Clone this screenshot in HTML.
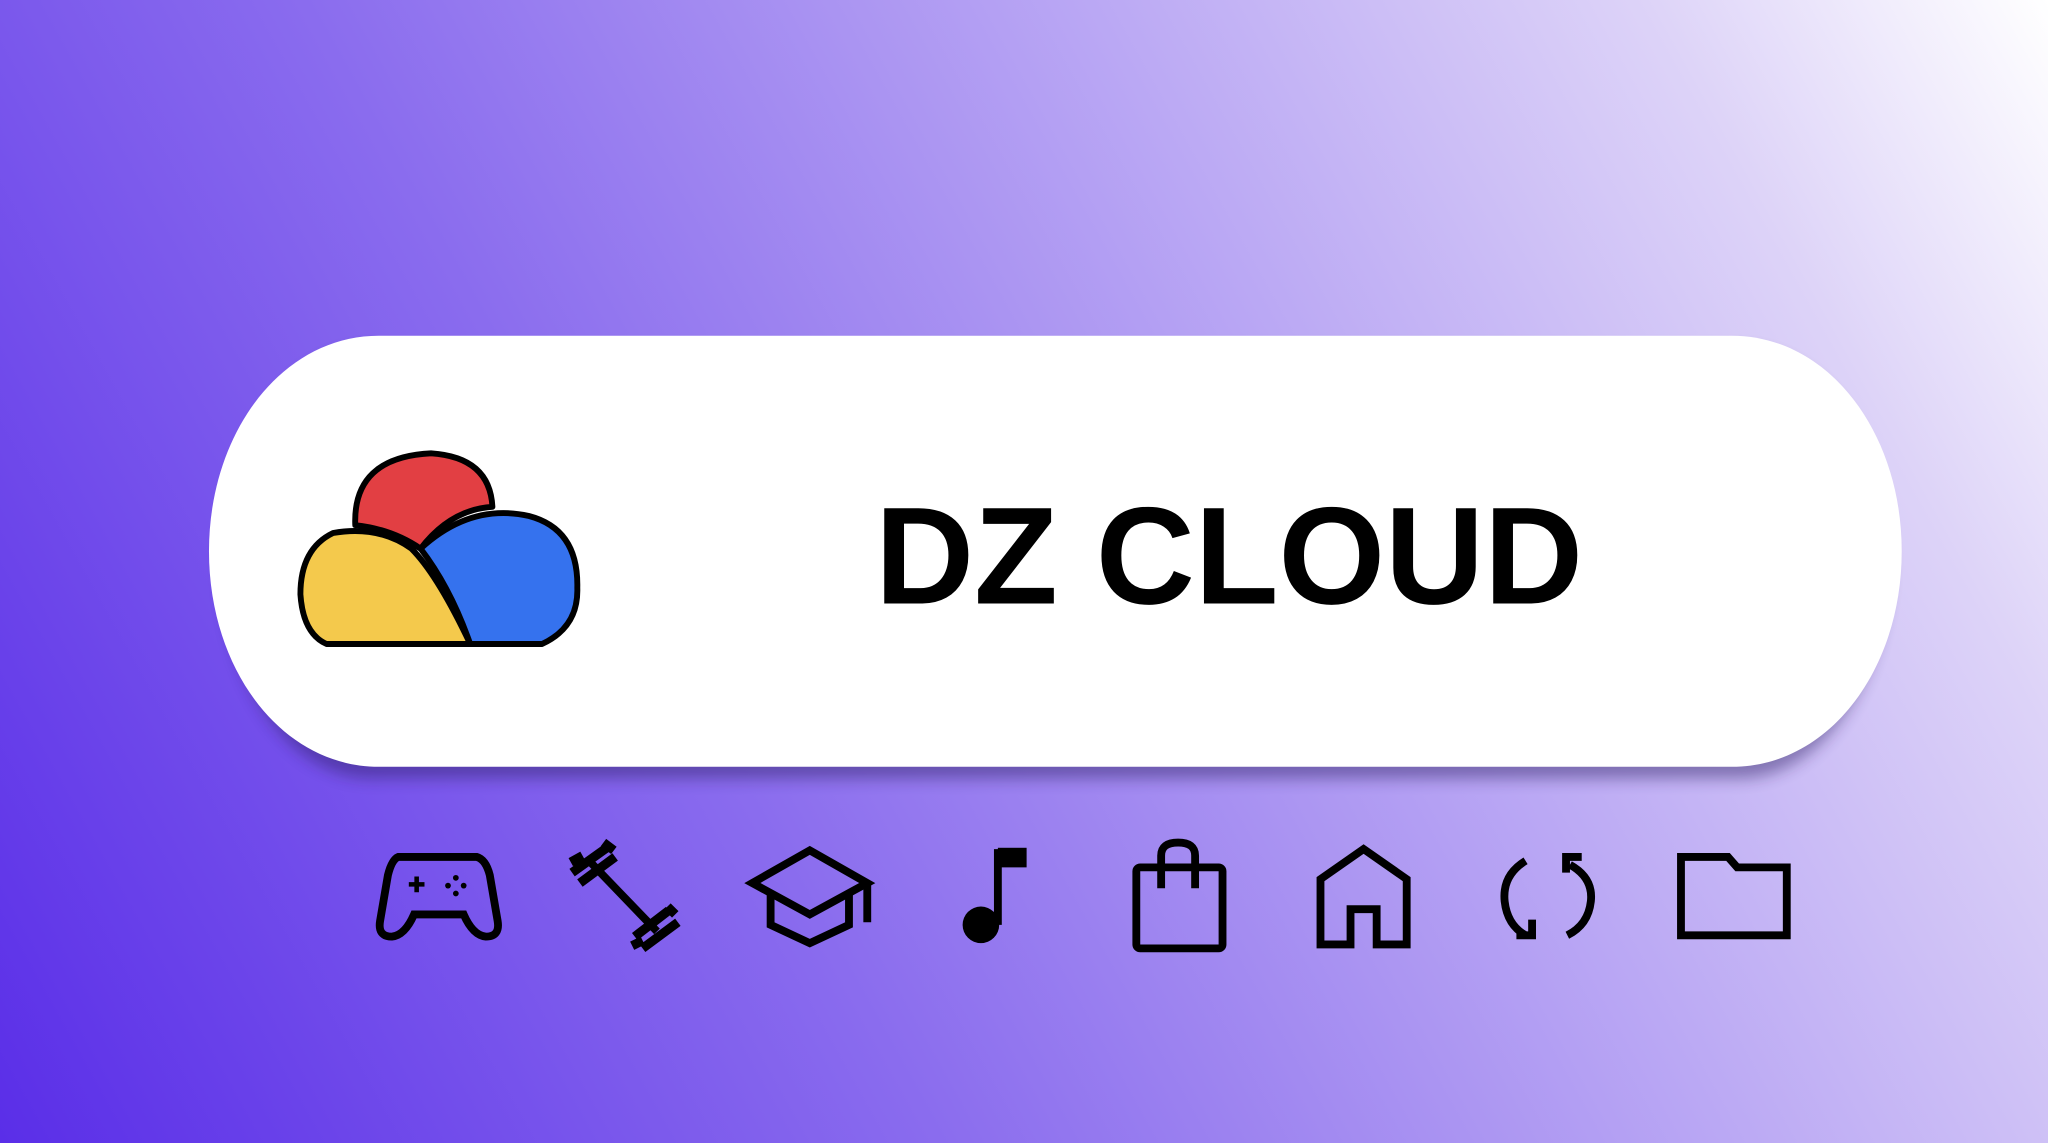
<!DOCTYPE html>
<html><head><meta charset="utf-8"><style>
html,body{margin:0;padding:0;width:2048px;height:1143px;overflow:hidden}
svg{display:block}
</style></head><body>
<svg width="2048" height="1143" viewBox="0 0 1568 875" preserveAspectRatio="none" xmlns="http://www.w3.org/2000/svg">
<defs>
<linearGradient id="bg" x1="0" y1="875" x2="1568" y2="0" gradientUnits="userSpaceOnUse">
<stop offset="0" stop-color="#5a2ee8"/>
<stop offset="0.35" stop-color="#8a6cee"/>
<stop offset="0.6" stop-color="#b39ff3"/>
<stop offset="0.85" stop-color="#ddd3f8"/>
<stop offset="1" stop-color="#ffffff"/>
</linearGradient>
<filter id="sh" x="-10%" y="-10%" width="120%" height="130%">
<feGaussianBlur stdDeviation="6"/>
</filter>
</defs>
<rect width="1568" height="875" fill="url(#bg)"/>
<path d="M285,268 H1331 C1397,268 1445,342 1445,430 C1445,518 1397,596 1331,596 H285 C219,596 171,518 171,430 C171,342 219,268 285,268 Z" fill="#2a1a60" opacity="0.45" filter="url(#sh)"/>
<path d="M290,257 H1326 C1400,257 1456,331 1456,422 C1456,513 1400,587 1326,587 H290 C216,587 160,513 160,422 C160,331 216,257 290,257 Z" fill="#fff"/>
<g stroke="#000" stroke-width="4.5" stroke-linejoin="round">
<path d="M272,402 Q270,350 330,347 Q375,350 377,388 Q345,390 322,420 Q300,405 272,402 Z" fill="#e23f43"/>
<path d="M360,493 L415,493 Q443,480 442,450 Q443,405 405,395 Q360,385 322,420 Q345,450 360,493 Z" fill="#3572ee"/>
<path d="M250,493 L360,493 Q335,440 315,420 Q290,402 255,408 Q230,420 230,455 Q232,485 250,493 Z" fill="#f4c94c"/>
</g>
<text x="941" y="462" text-anchor="middle" font-family="Liberation Sans, Arial, sans-serif" font-weight="bold" font-size="106" textLength="542" lengthAdjust="spacingAndGlyphs" fill="#000">DZ CLOUD</text>
<g fill="none" stroke="#000" stroke-width="6" stroke-linejoin="miter">
<path d="M305,656 L365,656 Q372,658 375,670 L381,705 Q383,717 372,717 Q362,716 355,700 L317,700 Q310,716 300,717 Q289,717 291,705 L297,670 Q300,658 305,656 Z"/>
<path d="M313,677 h12 M319,671 v12" stroke-width="3.5"/>
<circle cx="349" cy="672" r="2.2" fill="#000" stroke="none"/><circle cx="349" cy="684" r="2.2" fill="#000" stroke="none"/>
<circle cx="343" cy="678" r="2.2" fill="#000" stroke="none"/><circle cx="355" cy="678" r="2.2" fill="#000" stroke="none"/>
<path d="M452,660 L503,713"/>
<path d="M438,668 L466,648 M444,676 L471,656 M437,660 L446,655 M470,651 L462,645" stroke-width="7"/>
<path d="M486,717 L512,697 M492,726 L519,706 M484,724 L492,720 M517,700 L511,694" stroke-width="7"/>
<path d="M576,676 L620,651 L664,676 L620,700 Z"/>
<path d="M590,684 V708 L620,722 L650,708 V684"/>
<path d="M664,676 V706"/>
<path d="M764,650 V708"/>
<rect x="764" y="649" width="22" height="15" fill="#000" stroke="none"/>
<ellipse cx="751" cy="708" rx="14" ry="14" fill="#000" stroke="none"/>
<rect x="870" y="664" width="66" height="62" rx="3"/>
<path d="M889,680 V655 Q889,645 902,645 Q915,645 915,655 V680"/>
<path d="M1011,723 V673 L1044,650 L1077,673 V723 H1054 V696 H1034 V723 Z"/>
<path d="M1168,659 Q1150,670 1152,690 Q1154,708 1168,716"/>
<path d="M1161,716 H1173 V704"/>
<path d="M1202,662 Q1220,672 1218,690 Q1216,708 1200,716"/>
<path d="M1211,656 H1199 V668"/>
<path d="M1287,716 V656 H1323 L1330,664 H1368 V716 Z"/>
</g>
</svg>
</body></html>
